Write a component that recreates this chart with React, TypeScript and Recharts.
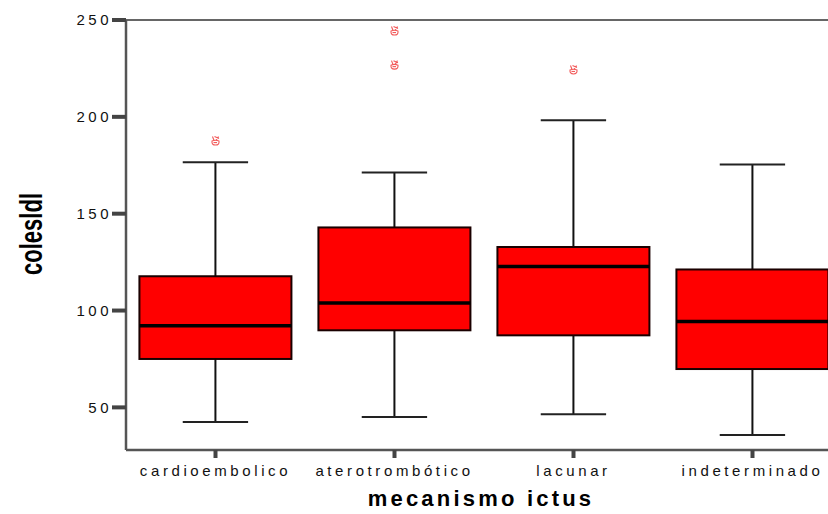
import React from "react";
import { ComposedChart, Bar, Line, XAxis, YAxis, ReferenceLine } from "recharts";

const categories = ["cardioembolico", "aterotrombótico", "lacunar", "indeterminado"];
const whiskerLow = [42.5, 45, 46.5, 35.7];
const q1 = [75, 89.8, 87.2, 69.8];
const median = [92.2, 103.9, 122.7, 94.4];
const q3 = [117.7, 142.9, 132.8, 121.2];
const whiskerHigh = [176.6, 171.3, 198.3, 175.4];
const outlierA: (number | null)[] = [187.5, 244.3, 224.2, null];
const outlierB: (number | null)[] = [null, 226.7, null, null];
const yTicks = [50, 100, 150, 200, 250];

const data = categories.map((cat, i) => ({
  cat,
  range: [whiskerLow[i], whiskerHigh[i]],
  lo: whiskerLow[i],
  hi: whiskerHigh[i],
  q1: q1[i],
  median: median[i],
  q3: q3[i],
  outA: outlierA[i],
  outB: outlierB[i],
}));

// draws the whole box from the bar's [low, high] geometry
function BoxShape(props: any) {
  const { x, y, width, height, payload } = props;
  if (payload == null || height == null) return <g />;
  const k = height / (payload.hi - payload.lo);
  const py = (v: number) => y + (payload.hi - v) * k;
  const cx = x + width / 2;
  const cap = width * 0.43;
  const yq1 = py(payload.q1);
  const yq3 = py(payload.q3);
  const ym = py(payload.median);
  const yTop = py(payload.hi);
  const yBot = py(payload.lo);
  return (
    <g>
      <line x1={cx} x2={cx} y1={yTop} y2={yq3} stroke="#111" strokeWidth={2} />
      <line x1={cx} x2={cx} y1={yq1} y2={yBot} stroke="#111" strokeWidth={2} />
      <line x1={cx - cap / 2} x2={cx + cap / 2} y1={yTop} y2={yTop} stroke="#222" strokeWidth={2} />
      <line x1={cx - cap / 2} x2={cx + cap / 2} y1={yBot} y2={yBot} stroke="#222" strokeWidth={2} />
      <rect x={x} y={yq3} width={width} height={yq1 - yq3} fill="#ff0000" stroke="#1a0000" strokeWidth={2} />
      <line x1={x} x2={x + width} y1={ym} y2={ym} stroke="#000" strokeWidth={3.5} />
    </g>
  );
}

// little "victory hand" marker like the SPSS outlier symbol
function OutlierDot(props: any) {
  const { cx, cy, value } = props;
  if (cy == null || value == null || isNaN(cy)) return <g key={props.key} />;
  return (
    <g key={props.key} transform={`translate(${cx},${cy})`} stroke="#f25a5a" strokeWidth={1.1} fill="none">
      <path d="M-1.5,-0.5 L-3,-4.5 M0.5,-0.5 L3,-4.5 M-1,-4.5 L3.5,-2.5" />
      <path d="M-3.5,0 Q-4,4 0,4 Q4,4 3.5,0 Q0,-1.5 -3.5,0 Z" />
      <path d="M-2,1.5 L1.5,1.5" />
    </g>
  );
}

export default function App() {
  return (
    <div style={{ position: "fixed", left: 0, top: 0, width: 828, height: 514, overflow: "hidden", background: "#fff" }}>
      <ComposedChart
        width={850}
        height={514}
        data={data}
        margin={{ top: 20, right: 8, left: 0, bottom: 0 }}
        barCategoryGap="7.5%"
      >
        <XAxis
          dataKey="cat"
          height={64}
          axisLine={{ stroke: "#555", strokeWidth: 2.5 }}
          tickLine={{ stroke: "#444", strokeWidth: 4 }}
          tickSize={8}
          tickMargin={7}
          tick={{ fontSize: 15, fill: "#111", fontFamily: "Liberation Sans", letterSpacing: 3.6 }}
          interval={0}
        />
        <YAxis
          width={126}
          domain={[28, 250]}
          ticks={yTicks}
          allowDataOverflow
          axisLine={{ stroke: "#555", strokeWidth: 2.5 }}
          tickLine={{ stroke: "#444", strokeWidth: 4 }}
          tickSize={14}
          tickMargin={0}
          tick={{ fontSize: 15, fill: "#111", fontFamily: "Liberation Sans", letterSpacing: 3.5 }}
        />
        <ReferenceLine y={250} stroke="#666" strokeWidth={2} />
        <Bar dataKey="range" shape={<BoxShape />} isAnimationActive={false} />
        <Line dataKey="outA" stroke="none" dot={(p: any) => <OutlierDot {...p} />} activeDot={false} isAnimationActive={false} />
        <Line dataKey="outB" stroke="none" dot={(p: any) => <OutlierDot {...p} />} activeDot={false} isAnimationActive={false} />
        <text
          transform="translate(42,234) rotate(-90)"
          textAnchor="middle"
          fontSize={32}
          fontWeight="bold"
          fontFamily="Liberation Sans"
          textLength={82}
          lengthAdjust="spacingAndGlyphs"
          fill="#000"
        >
          colesldl
        </text>
        <text
          x={481}
          y={506}
          textAnchor="middle"
          fontSize={22}
          fontWeight="bold"
          fontFamily="Liberation Sans"
          letterSpacing={3.2}
          fill="#000"
        >
          mecanismo ictus
        </text>
      </ComposedChart>
    </div>
  );
}
